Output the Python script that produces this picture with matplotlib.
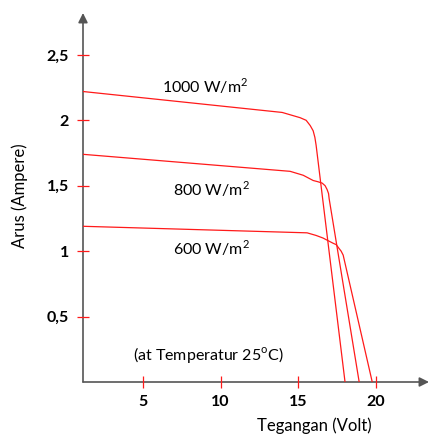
import matplotlib
matplotlib.use("Agg")
import matplotlib.pyplot as plt

plt.rcParams['font.family'] = ['Lato', 'DejaVu Sans']
plt.rcParams['mathtext.fontset'] = 'custom'
plt.rcParams['mathtext.rm'] = 'Lato'

# I-V curves (volt, ampere)
v_1000 = [1.15, 13.96, 15.11, 15.5, 15.76, 15.95, 16.06, 16.14, 18.0]
i_1000 = [2.22, 2.06, 2.02, 2.0, 1.96, 1.92, 1.87, 1.81, 0.0]

v_800 = [1.15, 14.47, 15.31, 15.95, 16.27, 16.53, 16.72, 16.85, 16.94, 16.98, 18.91]
i_800 = [1.74, 1.61, 1.58, 1.54, 1.53, 1.52, 1.50, 1.47, 1.44, 1.40, 0.0]

v_600 = [1.15, 15.56, 16.14, 16.59, 16.91, 17.24, 17.43, 17.62, 17.75, 17.88, 19.75]
i_600 = [1.19, 1.14, 1.12, 1.10, 1.08, 1.06, 1.05, 1.02, 1.00, 0.97, 0.0]

x_ticks = [5, 10, 15, 20]
x_labels = ['5', '10', '15', '20']
y_ticks = [0.5, 1, 1.5, 2, 2.5]
y_labels = ['0,5', '1', '1,5', '2', '2,5']

W, H = 432, 434
fig = plt.figure(figsize=(W / 100, H / 100), dpi=100)
ax = fig.add_axes([83 / W, (H - 382) / H, (429 - 83) / W, (382 - 13) / H])
ax.set_xlim(1.15, 23.4)
ax.set_ylim(0, 2.82)

for s in ax.spines.values():
    s.set_visible(False)
ax.set_axisbelow(False)

# axes drawn as arrows
axis_col = '#555555'
for tip in [(1, 0), (0, 1)]:
    ax.annotate('', xy=tip, xytext=(0, 0), xycoords='axes fraction',
                arrowprops=dict(arrowstyle='-|>', color=axis_col, lw=1.2,
                                shrinkA=0, shrinkB=0, mutation_scale=14),
                zorder=1)

red = '#ff1a1a'
ax.plot(v_1000, i_1000, color=red, lw=0.9, zorder=2)
ax.plot(v_800, i_800, color=red, lw=0.9, zorder=2)
ax.plot(v_600, i_600, color=red, lw=0.9, zorder=2)

ax.set_xticks(x_ticks, labels=x_labels)
ax.set_yticks(y_ticks, labels=y_labels)
ax.tick_params(axis='both', direction='inout', color=red, length=8, width=0.9,
               labelsize=11.5)
ax.tick_params(axis='y', pad=6)
ax.tick_params(axis='x', pad=5)
for lab in ax.get_xticklabels() + ax.get_yticklabels():
    lab.set_fontweight('bold')

ax.text(9.0, 2.26, r'1000 W/m$^2$', ha='center', va='center', fontsize=11.5)
ax.text(9.4, 1.47, r'800 W/m$^2$', ha='center', va='center', fontsize=11.5)
ax.text(9.4, 1.02, r'600 W/m$^2$', ha='center', va='center', fontsize=11.5)
ax.text(9.2, 0.21, r'(at Temperatur 25$^{\rm o}$C)', ha='center', va='center',
        fontsize=11.5)

fig.text(314 / W, 1 - 417 / H, 'Tegangan (Volt)', ha='center', va='top',
         fontsize=12)
fig.text(20 / W, 1 - 196 / H, 'Arus (Ampere)', ha='center', va='center',
         rotation=90, fontsize=12)

fig.savefig('out.png', dpi=100)
